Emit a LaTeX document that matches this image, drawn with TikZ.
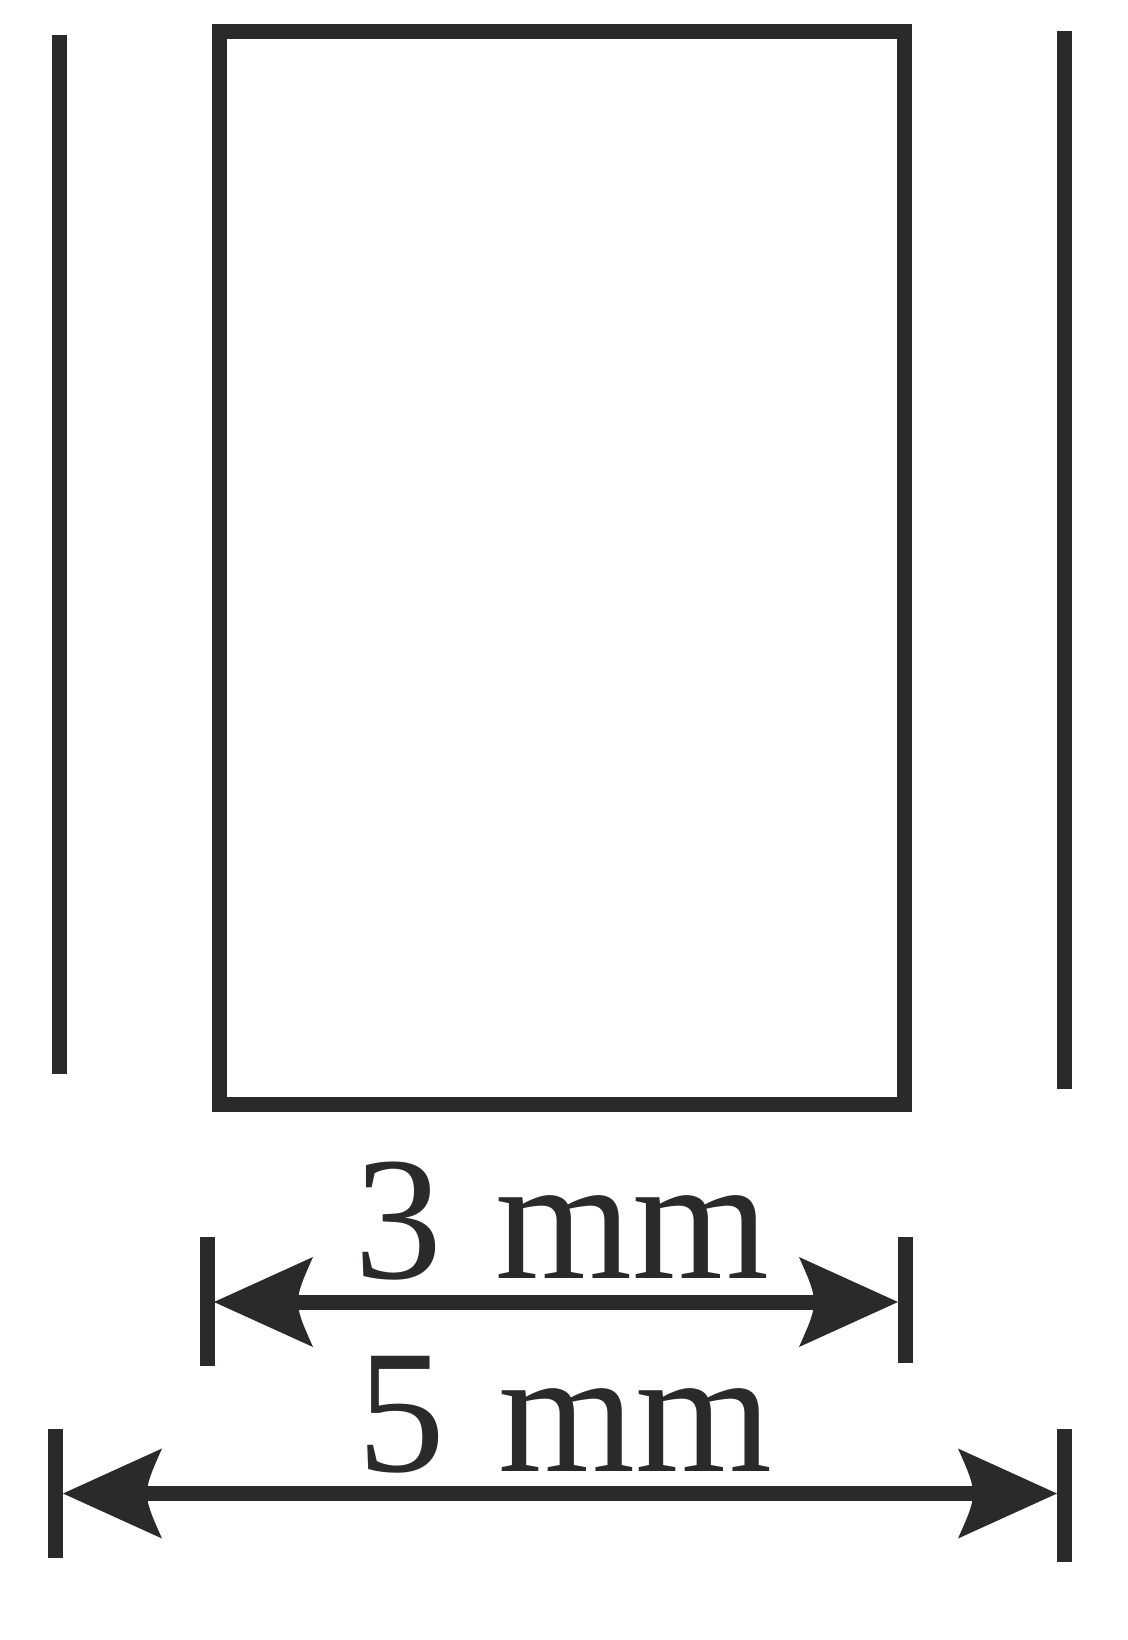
\documentclass[tikz,border=0pt]{standalone}
\usepackage{fontspec}
\setmainfont{Liberation Serif}
\definecolor{ink}{HTML}{2B2A29}
\newcommand\dimlabfont{\fontsize{88}{100}\selectfont\spaceskip=27pt\relax}
\begin{document}
\begin{tikzpicture}[x=0.5pt,y=-0.5pt,
  thick line/.style={draw=ink,line width=7.5pt},
  dimline/.style={draw=ink,line width=7.5pt},
  label/.style={inner sep=0pt,anchor=base,text=ink,font=\dimlabfont},
  headR/.pic={\fill[ink] (0,0) -- (-99,45) .. controls (-79,0) .. (-99,-45) -- cycle;},
  headL/.pic={\fill[ink] (0,0) -- (99,45) .. controls (79,0) .. (99,-45) -- cycle;}]
\useasboundingbox (0,0) rectangle (1128,1640);
% vertical walls
\coordinate (wl1) at (59,35);   \coordinate (wl2) at (59,1074);
\coordinate (wr1) at (1064.5,31); \coordinate (wr2) at (1064.5,1089);
\draw[thick line] (wl1) -- (wl2);
\draw[thick line] (wr1) -- (wr2);
% rectangle
\node[draw=ink,line width=7.5pt,inner sep=0pt,minimum width=685.5*0.5pt,minimum height=1073*0.5pt] (box) at (561.75,568) {};
% 3 mm dimension
\coordinate (t3l1) at (207,1237); \coordinate (t3l2) at (207,1366);
\coordinate (t3r1) at (905.5,1237); \coordinate (t3r2) at (905.5,1363);
\draw[thick line] (t3l1) -- (t3l2);
\draw[thick line] (t3r1) -- (t3r2);
\coordinate (a3l) at (214,1302); \coordinate (a3r) at (898,1302);
\draw[dimline] ([xshift=40*0.5pt]a3l) -- ([xshift=-40*0.5pt]a3r);
\pic at (a3l) {headL};
\pic at (a3r) {headR};
\node[label] (l3) at (562,1278) {3 mm};
% 5 mm dimension
\coordinate (t5l1) at (55.5,1429); \coordinate (t5l2) at (55.5,1558);
\coordinate (t5r1) at (1064.5,1429); \coordinate (t5r2) at (1064.5,1562);
\draw[thick line] (t5l1) -- (t5l2);
\draw[thick line] (t5r1) -- (t5r2);
\coordinate (a5l) at (63,1493.5); \coordinate (a5r) at (1057,1493.5);
\draw[dimline] ([xshift=40*0.5pt]a5l) -- ([xshift=-40*0.5pt]a5r);
\pic at (a5l) {headL};
\pic at (a5r) {headR};
\node[label] (l5) at (565,1471) {5 mm};
\end{tikzpicture}
\end{document}
